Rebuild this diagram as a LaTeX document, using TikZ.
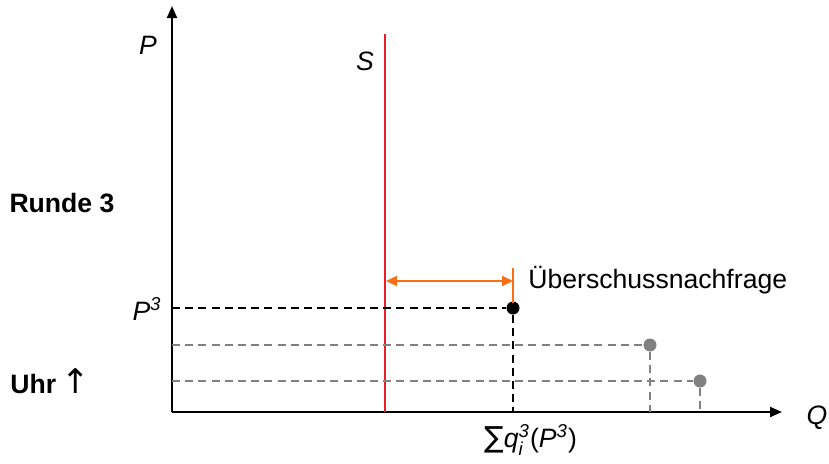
\documentclass[tikz,border=0pt]{standalone}
\usepackage{amsmath}
\usepackage{fontspec}
\setmainfont{Liberation Sans}
\newfontfamily\symfont{DejaVu Sans}
\usetikzlibrary{arrows.meta}
\definecolor{supred}{RGB}{230,30,40}
\definecolor{exorange}{RGB}{250,110,20}
\definecolor{dotgray}{RGB}{128,128,128}
\tikzset{
  axis/.style={line width=1pt, -{Triangle[length=6pt,width=5pt]}},
  lbl/.style={font=\fontsize{13.3}{15}\selectfont, inner sep=0pt},
  blackdash/.style={line width=0.8pt, dash pattern=on 4pt off 2.6pt},
  graydash/.style={line width=0.8pt, dotgray, dash pattern=on 4pt off 2.6pt},
  pt/.style={circle, fill, inner sep=0pt, minimum size=6.5pt},
}
\begin{document}
\begin{tikzpicture}[x=0.5pt,y=-0.5pt]
\useasboundingbox (0,0) rectangle (829,463);
% axes
\coordinate (O) at (172,412);
\coordinate (Ptop) at (172,6);
\coordinate (Qend) at (782,412);
\draw[axis] (O) -- (Ptop);
\draw[axis] (O) -- (Qend);
\node[lbl] (Plabel) at (148,45) {\itshape P};
\node[lbl] (Qlabel) at (817,418) {\itshape Q};
% supply
\coordinate (Stop) at (385,34);
\coordinate (Sbot) at (385,412);
\draw[supred, line width=1pt] (Stop) -- (Sbot);
\node[lbl] (Slabel) at (365,61) {\itshape S};
% left labels
\node[lbl, font=\fontsize{13.3}{15}\selectfont\bfseries] (runde) at (62,203) {Runde 3};
\node[lbl, font=\fontsize{13.3}{15}\selectfont\bfseries, anchor=west] (uhr) at (10,381) {Uhr\hspace{0.2em}{\symfont\mdseries\fontsize{17}{18}\selectfont ↑}};
% P3 level
\node[lbl, anchor=east] (P3) at (162,309) {\itshape P\textsuperscript{3}};
\node[pt, black] (d1) at (513,308) {};
\coordinate (a1) at (172,308);
\coordinate (b1) at (513,412);
\draw[blackdash] (a1) -- (d1);
\draw[blackdash] (d1) -- (b1);
% gray levels
\node[pt, dotgray] (d2) at (650,345) {};
\coordinate (a2) at (172,345);
\coordinate (b2) at (650,412);
\draw[graydash] (a2) -- (d2);
\draw[graydash] (d2) -- (b2);
\node[pt, dotgray] (d3) at (700,381) {};
\coordinate (a3) at (172,381);
\coordinate (b3) at (700,412);
\draw[graydash] (a3) -- (d3);
\draw[graydash] (d3) -- (b3);
% excess demand
\coordinate (o1) at (513,268);
\coordinate (o2) at (513,303);
\draw[exorange, line width=1pt] (o1) -- (o2);
\coordinate (e1) at (386,281);
\coordinate (e2) at (513,281);
\draw[exorange, line width=1pt, {Triangle[length=5.5pt,width=5pt]}-{Triangle[length=5.5pt,width=5pt]}] (e1) -- (e2);
\node[lbl, anchor=west] (exlabel) at (528,280) {Überschussnachfrage};
% sum label
\node[lbl, anchor=west] (sumlabel) at (484,440) {{\symfont\fontsize{14.5}{15}\selectfont ∑}$\text{\itshape q}_{\text{\itshape i}}^{\text{\itshape 3}}$(\textit{P\textsuperscript{3}})};
\end{tikzpicture}
\end{document}
